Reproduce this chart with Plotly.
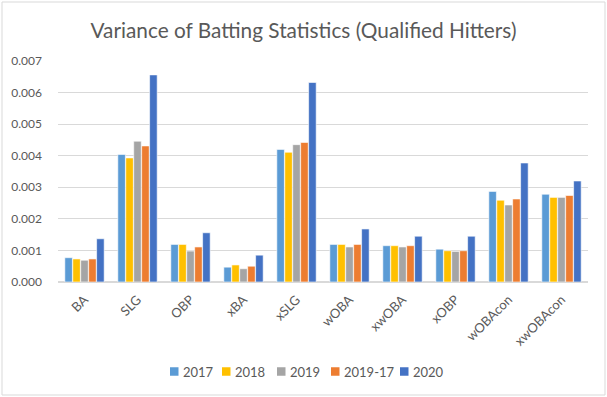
import plotly.graph_objects as go

categories = ["BA", "SLG", "OBP", "xBA", "xSLG", "wOBA", "xwOBA", "xOBP", "wOBAcon", "xwOBAcon"]
series_names = ["2017", "2018", "2019", "2019-17", "2020"]
v2017 = [0.00077, 0.00404, 0.00119, 0.00047, 0.00420, 0.00119, 0.00115, 0.00104, 0.00287, 0.00278]
v2018 = [0.00073, 0.00393, 0.00119, 0.00054, 0.00411, 0.00119, 0.00115, 0.00099, 0.00259, 0.00268]
v2019 = [0.00069, 0.00446, 0.00098, 0.00042, 0.00435, 0.00111, 0.00111, 0.00097, 0.00244, 0.00268]
v2019_17 = [0.00073, 0.00431, 0.00111, 0.00050, 0.00442, 0.00119, 0.00115, 0.00099, 0.00263, 0.00274]
v2020 = [0.00137, 0.00656, 0.00156, 0.00085, 0.00632, 0.00168, 0.00145, 0.00145, 0.00377, 0.00320]
y_ticks = [0.000, 0.001, 0.002, 0.003, 0.004, 0.005, 0.006, 0.007]

colors = ["#5B9BD5", "#FFC000", "#A5A5A5", "#ED7D31", "#4472C4"]
all_values = [v2017, v2018, v2019, v2019_17, v2020]

W, H = 607, 397
L, R, T, B = 58, 19, 61, 115
pw, ph = W - L - R, H - T - B

def px_x(x):
    return (x - L) / pw

def px_y(y):
    return (H - B - y) / ph

fig = go.Figure()
for name, vals, c in zip(series_names, all_values, colors):
    fig.add_trace(go.Bar(x=categories, y=vals, name=name,
                         marker=dict(color=c, line=dict(color="white", width=0.6))))

font_family = "Lato, 'Open Sans', sans-serif"
grey = "#595959"
fig.update_layout(
    width=W, height=H,
    paper_bgcolor="white", plot_bgcolor="white",
    margin=dict(l=L, r=R, t=T, b=B, autoexpand=False),
    title=dict(text="Variance of Batting Statistics (Qualified Hitters)",
               x=0.5, xanchor="center", y=1 - 31 / H, yanchor="middle",
               font=dict(family=font_family, size=20.8, color=grey)),
    barmode="group", bargap=0.25, bargroupgap=0.05,
    showlegend=False,
    font=dict(family=font_family, color=grey),
)
fig.update_yaxes(range=[0, 0.007], tickvals=y_ticks, tickformat=".3f",
                 showgrid=True, gridcolor="#D9D9D9", gridwidth=1,
                 zeroline=True, zerolinecolor="#D9D9D9", showline=False,
                 tickfont=dict(size=12, color=grey), ticks="", ticklabelstandoff=15)
fig.update_xaxes(tickangle=-45, showline=True, linecolor="#D9D9D9",
                 tickfont=dict(size=13, color=grey), ticks="", ticklabelstandoff=4)

# outer chart border
fig.add_shape(type="rect", xref="paper", yref="paper",
              x0=px_x(2), x1=px_x(W - 2), y0=px_y(H - 2), y1=px_y(2),
              line=dict(color="#D9D9D9", width=1))

# manual legend (Excel-style compact)
leg_x = [170, 222, 277, 331, 400]
leg_y = 371.5
sq = 8.5
for name, c, x in zip(series_names, colors, leg_x):
    fig.add_shape(type="rect", xref="paper", yref="paper",
                  x0=px_x(x), x1=px_x(x + sq), y0=px_y(leg_y + sq / 2), y1=px_y(leg_y - sq / 2),
                  fillcolor=c, line=dict(width=0))
    fig.add_annotation(text=name, xref="paper", yref="paper",
                       x=px_x(x + sq + 2.5), y=px_y(leg_y), xanchor="left", yanchor="middle",
                       showarrow=False, font=dict(family=font_family, size=13, color=grey))

fig.write_html("out.html", config={"displayModeBar": False},
               post_script="document.body.style.margin='0';")
